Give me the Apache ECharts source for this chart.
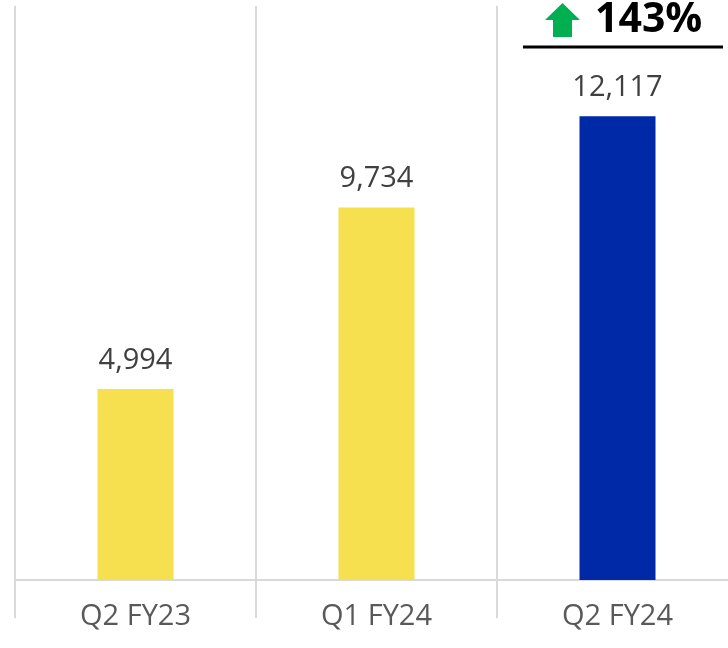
<!DOCTYPE html>
<html><head><meta charset="utf-8">
<script src="https://cdn.jsdelivr.net/npm/echarts@6/dist/echarts.min.js"></script>
<style>html,body{margin:0;padding:0;background:#fff;overflow:hidden}#c{width:740px;height:648px}</style>
</head><body><div id="c"></div>
<script>
const categories = ['Q2 FY23', 'Q1 FY24', 'Q2 FY24'];
const values = [4994, 9734, 12117];
const barColors = ['#F6E04F', '#F6E04F', '#0029A8'];
const growthLabel = '143%';

const chart = echarts.init(document.getElementById('c'), null, {renderer: 'canvas'});
const FONT = '"Open Sans", "Noto Sans", sans-serif';
chart.setOption({
  animation: false,
  grid: {left: 15, right: 2, top: 6, bottom: 68, containLabel: false},
  xAxis: {
    type: 'category',
    data: categories,
    axisLine: {lineStyle: {color: '#D9D9D9', width: 2}},
    axisTick: {show: true, length: 38, lineStyle: {color: '#D9D9D9', width: 2}},
    splitLine: {show: true, lineStyle: {color: '#D9D9D9', width: 2}},
    axisLabel: {color: '#595959', fontSize: 29, fontFamily: FONT, margin: 22}
  },
  yAxis: {
    type: 'value', min: 0, max: 15000,
    show: false,
    splitLine: {show: false}
  },
  series: [{
    type: 'bar',
    barWidth: 76,
    data: values.map((v, i) => ({value: v, itemStyle: {color: barColors[i]}})),
    label: {
      show: true, position: 'top', distance: 14,
      color: '#404040', fontSize: 29, fontFamily: FONT,
      formatter: p => p.value.toLocaleString('en-US')
    }
  }],
  graphic: [
    {type: 'polygon', shape: {points: [[562.5,3],[580,20],[572,20],[572,37],[553,37],[553,20],[545,20]]}, style: {fill: '#00B050'}},
    {type: 'text', left: 595, top: 0, style: {text: growthLabel, fontSize: 41, fontWeight: 'bold', fill: '#000', fontFamily: FONT}},
    {type: 'line', shape: {x1: 523, y1: 47, x2: 723, y2: 47}, style: {stroke: '#000', lineWidth: 3}}
  ]
});
</script></body></html>
